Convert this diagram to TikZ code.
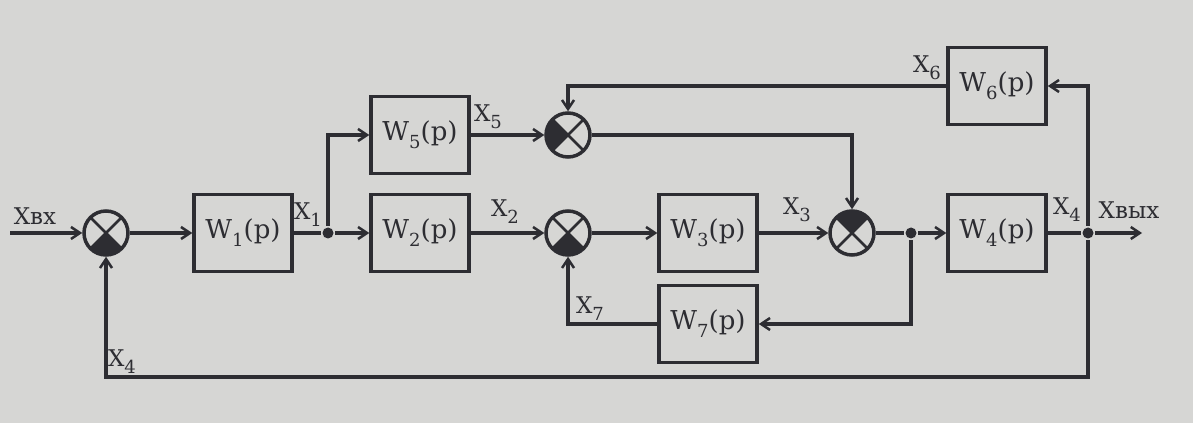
\documentclass[tikz,border=0pt]{standalone}
\usepackage{fontspec}
\setmainfont{DejaVu Serif}
\usetikzlibrary{arrows.meta}
\definecolor{bg}{RGB}{214,214,212}
\definecolor{ink}{RGB}{45,45,50}
\newcommand\sbs[1]{\raisebox{-0.3em}{\fontsize{18}{18}\selectfont #1}}
\begin{document}
\begin{tikzpicture}[x=1pt,y=1pt,color=ink,line width=3.5pt,
  blk/.style={draw, line width=3.5pt, minimum width=98pt, minimum height=77pt, inner sep=0pt, font=\fontsize{26}{26}\selectfont},
  sj/.style={circle, draw, line width=3.5pt, minimum size=44pt, inner sep=0pt},
  lbl/.style={font=\fontsize{23}{23}\selectfont, inner sep=0pt},
  arr/.style={-{Straight Barb[length=9pt,width=12pt,line width=2.5pt]}},
  dot/.style={circle, fill, minimum size=11pt, inner sep=0pt}]
\useasboundingbox (0,0) rectangle (1193,423);
\fill[bg] (0,0) rectangle (1193,423);
% blocks
\node[blk] (w1) at (243,190) {W\sbs{1}(p)};
\node[blk] (w2) at (420,190) {W\sbs{2}(p)};
\node[blk] (w5) at (420,288) {W\sbs{5}(p)};
\node[blk] (w3) at (708,190) {W\sbs{3}(p)};
\node[blk] (w7) at (708,99) {W\sbs{7}(p)};
\node[blk] (w4) at (997,190) {W\sbs{4}(p)};
\node[blk] (w6) at (997,337) {W\sbs{6}(p)};
% summing junctions
\foreach \n/\p/\a in {s1/{106,190}/225, s5/{568,288}/135, s2/{568,190}/225, s3/{852,190}/45}{
  \node[sj] (\n) at (\p) {};
  \fill (\n.center) -- ++(\a:21pt) arc[start angle=\a, delta angle=90, radius=21pt] -- cycle;
  \draw[line width=2.5pt] (\n.center) ++(45:21pt) -- ++(225:42pt);
  \draw[line width=2.5pt] (\n.center) ++(135:21pt) -- ++(315:42pt);
}
% dots
\node[dot] (j1) at (328,190) {};
\node[dot] (j3) at (911,190) {};
\node[dot] (jo) at (1088,190) {};
\coordinate (in) at (10,190);
\coordinate (out) at (1142,190);
\coordinate (bot) at (106,46);
% connectors
\draw[arr] (in) -- (s1);
\draw[arr] (s1) -- (w1);
\draw (w1) -- (j1);
\draw[arr] (j1) -- (w2);
\draw[arr] (j1) |- (w5);
\draw[arr] (w5) -- (s5);
\draw[arr] (w2) -- (s2);
\draw[arr] (s2) -- (w3);
\draw[arr] (w3) -- (s3);
\draw (s3) -- (j3);
\draw[arr] (j3) -- (w4);
\draw (w4) -- (jo);
\draw[arr] (jo) -- (out);
\draw[arr] (jo) |- (w6);
\draw[arr] (w6) -| (s5);
\draw[arr] (s5) -| (s3);
\draw[arr] (j3) |- (w7);
\draw[arr] (w7) -| (s2);
\draw[arr] (jo) |- (bot) -- (s1);
% labels
\node[lbl] (lin) at (35,207) {Xвх};
\node[lbl] (l1) at (308,208) {X\sbs{1}};
\node[lbl] (l5) at (488,306) {X\sbs{5}};
\node[lbl] (l2) at (505,211) {X\sbs{2}};
\node[lbl] (l3) at (797,213) {X\sbs{3}};
\node[lbl] (l7) at (590,114) {X\sbs{7}};
\node[lbl] (l6) at (927,355) {X\sbs{6}};
\node[lbl] (l4) at (1067,213) {X\sbs{4}};
\node[lbl] (lout) at (1129,213) {Xвых};
\node[lbl] (l4b) at (122,61) {X\sbs{4}};
\end{tikzpicture}
\end{document}
